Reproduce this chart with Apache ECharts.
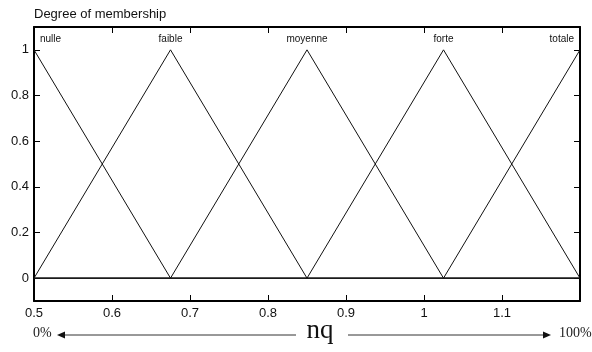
<!DOCTYPE html>
<html>
<head>
<meta charset="utf-8">
<script src="https://cdn.jsdelivr.net/npm/echarts@6/dist/echarts.min.js"></script>
<style>html,body{margin:0;padding:0;background:#fff}#c{width:592px;height:352px}</style>
</head>
<body>
<div id="c"></div>
<script>
// Membership functions (x breakpoints and degree values)
var mfNames = ['nulle', 'faible', 'moyenne', 'forte', 'totale'];
var xNulle = [0.5, 0.675, 1.2];
var yNulle = [1, 0, 0];
var xFaible = [0.5, 0.675, 0.85, 1.2];
var yFaible = [0, 1, 0, 0];
var xMoyenne = [0.5, 0.675, 0.85, 1.025, 1.2];
var yMoyenne = [0, 0, 1, 0, 0];
var xForte = [0.5, 0.85, 1.025, 1.2];
var yForte = [0, 0, 1, 0];
var xTotale = [0.5, 1.025, 1.2];
var yTotale = [0, 0, 1];
var xTicks = [0.5, 0.6, 0.7, 0.8, 0.9, 1, 1.1];
var yTicks = [0, 0.2, 0.4, 0.6, 0.8, 1];

var xs = [xNulle, xFaible, xMoyenne, xForte, xTotale];
var ys = [yNulle, yFaible, yMoyenne, yForte, yTotale];

var chart = echarts.init(document.getElementById('c'), null, {renderer: 'canvas'});
var sans = 'Liberation Sans, Arial, sans-serif';
var serif = 'Liberation Serif, Times New Roman, serif';

var series = mfNames.map(function (name, i) {
  var data = xs[i].map(function (x, j) {
    var item = {value: [x, ys[i][j]]};
    if (ys[i][j] === 1) {
      var lab = {show: true, formatter: name, position: 'top', distance: 6,
        fontSize: 10, fontFamily: sans, color: '#111'};
      if (i === 0) { lab.align = 'left'; lab.offset = [6, 0]; }
      if (i === mfNames.length - 1) { lab.align = 'right'; lab.offset = [-6, 0]; }
      item.label = lab;
    }
    return item;
  });
  return {
    type: 'line', name: name, data: data, symbol: 'circle', symbolSize: 0, showSymbol: true,
    silent: true, itemStyle: {color: '#111'},
    lineStyle: {color: '#111', width: 1}, animation: false, z: 3
  };
});

function xAxisDef(pos, showLabels) {
  return {
    type: 'value', position: pos, min: 0.5, max: 1.2,
    axisLine: {show: true, onZero: false, lineStyle: {color: '#000', width: 2}},
    axisTick: {show: true, inside: true, length: 6, customValues: xTicks, lineStyle: {color: '#000', width: 1}},
    axisLabel: {show: showLabels, customValues: xTicks, margin: 6, fontSize: 13, fontFamily: sans, color: '#111',
      formatter: function (v) { return String(Math.round(v * 10) / 10); }},
    splitLine: {show: false}
  };
}
function yAxisDef(pos, showLabels) {
  return {
    type: 'value', position: pos, min: -0.1, max: 1.1,
    axisLine: {show: true, onZero: false, lineStyle: {color: '#000', width: 2}},
    axisTick: {show: true, inside: true, length: 6, customValues: yTicks, lineStyle: {color: '#000', width: 1}},
    axisLabel: {show: showLabels, customValues: yTicks, margin: 5, fontSize: 13, fontFamily: sans, color: '#111',
      formatter: function (v) { return String(Math.round(v * 10) / 10); }},
    splitLine: {show: false}
  };
}

chart.setOption({
  animation: false,
  backgroundColor: '#fff',
  title: {text: 'Degree of membership', left: 29, top: 3,
    textStyle: {fontSize: 13, fontWeight: 'normal', fontFamily: sans, color: '#111'}},
  grid: {left: 34, right: 12, top: 27, bottom: 51},
  xAxis: [xAxisDef('bottom', true), xAxisDef('top', false)],
  yAxis: [yAxisDef('left', true), yAxisDef('right', false)],
  series: series,
  graphic: [
    {type: 'text', left: 33, top: 326, style: {text: '0%', fontSize: 14, fontFamily: serif, fill: '#222'}},
    {type: 'line', shape: {x1: 64, y1: 335, x2: 296, y2: 335}, style: {stroke: '#333', lineWidth: 1}},
    {type: 'polygon', shape: {points: [[57, 335], [65, 331.5], [65, 338.5]]}, style: {fill: '#111'}},
    {type: 'text', x: 320, y: 331, style: {text: 'nq', fontSize: 27, fontFamily: serif, fill: '#111', align: 'center', verticalAlign: 'middle'}},
    {type: 'line', shape: {x1: 348, y1: 335, x2: 543, y2: 335}, style: {stroke: '#333', lineWidth: 1}},
    {type: 'polygon', shape: {points: [[551, 335], [543, 331.5], [543, 338.5]]}, style: {fill: '#111'}},
    {type: 'text', left: 559, top: 326, style: {text: '100%', fontSize: 14, fontFamily: serif, fill: '#222'}}
  ]
});
</script>
</body>
</html>
